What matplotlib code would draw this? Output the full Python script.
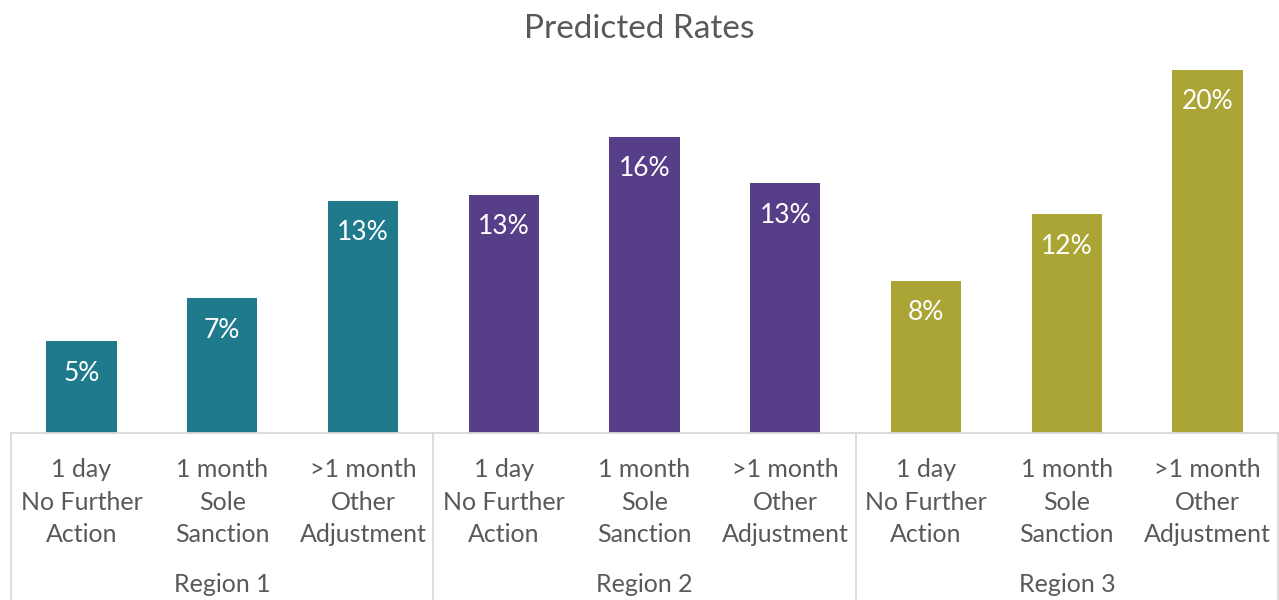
"Predicted rates by region, grouped bar chart"

import matplotlib
matplotlib.use('Agg')
import matplotlib.pyplot as plt
import matplotlib.transforms as mtransforms

regions = ['Region 1', 'Region 2', 'Region 3']
categories = ['1 day\nNo Further\nAction',
              '1 month\nSole\nSanction',
              '>1 month\nOther\nAdjustment']
rates = {
    'Region 1': [0.0496, 0.0728, 0.1252],
    'Region 2': [0.1284, 0.1597, 0.1348],
    'Region 3': [0.0820, 0.1181, 0.1958],
}
colors = {'Region 1': '#1F7A8C', 'Region 2': '#563F88', 'Region 3': '#ABA535'}

TEXT = '#595959'
GRID = '#D9D9D9'

def main():
    plt.rcParams['font.family'] = ['Lato', 'DejaVu Sans']
    W, H = 1279, 600
    fig = plt.figure(figsize=(W / 100, H / 100), dpi=100)
    left, right, base, top = 11, 1278, 433, 50
    ax = fig.add_axes([left / W, 1 - base / H, (right - left) / W, (base - top) / H])

    xs, heights, cols, ticks = [], [], [], []
    for g, reg in enumerate(regions):
        for i, v in enumerate(rates[reg]):
            xs.append(g * len(categories) + i)
            heights.append(v)
            cols.append(colors[reg])
            ticks.append(categories[i])

    bars = ax.bar(xs, heights, width=0.5, color=cols, edgecolor='none')
    for b, v in zip(bars, heights):
        ax.annotate(f'{v:.0%}', (b.get_x() + b.get_width() / 2, b.get_height()),
                    xytext=(0, -32), textcoords='offset pixels',
                    ha='center', va='center', color='white', fontsize=19)

    n = len(xs)
    ax.set_xlim(-0.5, n - 0.5)
    ax.set_ylim(0, (base - top) / 1854)
    ax.set_yticks([])
    ax.set_xticks(xs)
    ax.set_xticklabels(ticks, fontsize=18, color=TEXT, linespacing=1.5)
    ax.tick_params(axis='x', length=0, pad=18)
    for s in ['top', 'right', 'left']:
        ax.spines[s].set_visible(False)
    ax.spines['bottom'].set_color(GRID)
    ax.spines['bottom'].set_linewidth(1.3)

    trans = mtransforms.blended_transform_factory(ax.transData, ax.transAxes)
    depth = -(H - base) / (base - top)
    for k in range(len(regions) + 1):
        xk = k * len(categories) - 0.5
        ax.plot([xk, xk], [0, depth], color=GRID, lw=1.3,
                transform=trans, clip_on=False)
    for g, reg in enumerate(regions):
        ax.text(g * len(categories) + 1, depth + 15 / (base - top), reg,
                transform=trans, ha='center', va='center',
                fontsize=18, color=TEXT)

    fig.text(0.5, 1 - 29 / H, 'Predicted Rates', ha='center', va='center',
             fontsize=24, color=TEXT)

    fig.savefig('out.png', dpi=100)

if __name__ == "__main__":
    main()
